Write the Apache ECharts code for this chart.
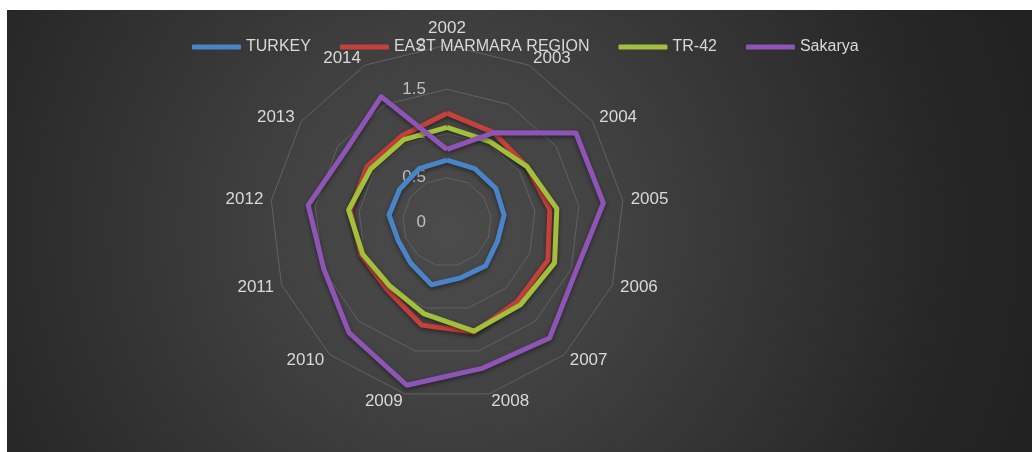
<!DOCTYPE html>
<html>
<head>
<meta charset="utf-8">
<script src="https://cdn.jsdelivr.net/npm/echarts@6/dist/echarts.min.js"></script>
<style>
html,body{margin:0;padding:0;background:#fff;}
#chart{position:absolute;left:7px;top:10px;width:1025px;height:442px;
	background:radial-gradient(circle at 43% 50%, #4b4b4b 0%, #444 22%, #353535 50%, #262626 80%, #212121 100%);}
</style>
</head>
<body>
<div id="chart"></div>
<script>
/*----------data----------*/
var years=["2002","2003","2004","2005","2006","2007","2008","2009","2010","2011","2012","2013","2014"];
var seriesNames=["TURKEY","EAST MARMARA REGION","TR-42","Sakarya"];
var turkey=[0.70,0.68,0.67,0.65,0.61,0.66,0.65,0.73,0.62,0.59,0.66,0.65,0.68];
var eastMarmara=[1.23,1.14,1.10,1.17,1.22,1.20,1.28,1.20,1.02,1.04,1.10,1.10,1.10];
var tr42=[1.07,1.03,1.10,1.25,1.30,1.25,1.27,1.07,0.97,1.02,1.12,1.05,1.05];
var sakarya=[0.82,1.14,1.77,1.78,1.56,1.75,1.70,1.90,1.67,1.49,1.58,1.40,1.60];
var colors=["#4a84c8","#c5413b","#a2c03c","#8e55b6"];
/*----------ready----------*/
$ready();
/*----------function------*/
function clockwise(arr){	//radar runs counterclockwise: keep first item on top, reverse the rest
	return [arr[0]].concat(arr.slice(1).reverse());
}
function $ready(){
	var chart=echarts.init(document.getElementById("chart"));
	var values=[turkey,eastMarmara,tr42,sakarya];
	var indicator=clockwise(years).map(function(y,i){
		var ind={name:y,min:0,max:2};
		if(i==0){	//only the first spoke carries the value labels
			ind.axisLabel={show:true,color:"#c0c0c0",fontSize:17,fontFamily:"Liberation Sans",margin:21};
		}
		return ind;
	});
	var data=seriesNames.map(function(n,i){
		return {
			name:n,
			value:clockwise(values[i]),
			symbol:"none",
			itemStyle:{color:colors[i]},
			lineStyle:{
				color:colors[i],
				width:5,
				shadowColor:"rgba(0,0,0,0.45)",
				shadowBlur:4,
				shadowOffsetY:2
			}
		};
	});
	var option={
		animation:false,
		legend:{
			left:180,
			top:24,
			icon:"roundRect",
			itemWidth:49,
			itemHeight:5,
			itemGap:29,
			textStyle:{color:"#d9d9d9",fontSize:16,fontFamily:"Liberation Sans"},
			data:seriesNames
		},
		radar:{
			center:[440,212],
			radius:177,
			startAngle:90,
			splitNumber:4,
			shape:"polygon",
			nameGap:8,
			axisName:{color:"#d9d9d9",fontSize:17,fontFamily:"Liberation Sans"},
			axisLine:{show:false},
			axisTick:{show:false},
			axisLabel:{show:false},
			splitArea:{show:false},
			splitLine:{lineStyle:{color:"#626262",width:1}},
			indicator:indicator
		},
		series:[
			{
				type:"radar",
				symbol:"none",
				data:data
			}
		]
	};
	chart.setOption(option);
}
</script>
</body>
</html>
